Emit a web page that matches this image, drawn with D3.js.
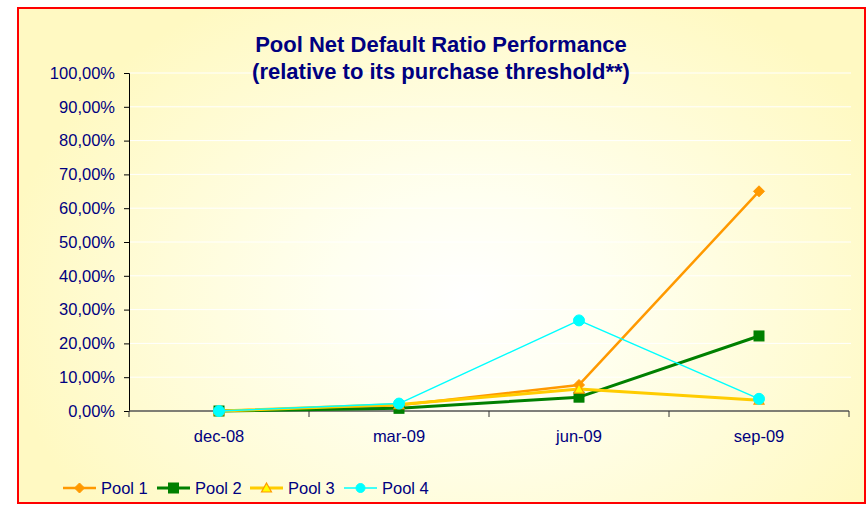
<!DOCTYPE html>
<html><head><meta charset="utf-8">
<script src="https://cdn.jsdelivr.net/npm/d3@7"></script>
<style>
html,body{margin:0;padding:0;background:#fff;}
svg{display:block;font-family:Arial,"Liberation Sans",sans-serif;}
</style></head><body>
<svg id="c" width="868" height="506"></svg>
<script>
const categories = ["dec-08","mar-09","jun-09","sep-09"];
const pool1 = [0, 0.017, 0.077, 0.65];
const pool2 = [0, 0.008, 0.041, 0.222];
const pool3 = [0, 0.019, 0.065, 0.032];
const pool4 = [0, 0.022, 0.268, 0.036];
const seriesNames = ["Pool 1","Pool 2","Pool 3","Pool 4"];
const yTicks = [0,0.1,0.2,0.3,0.4,0.5,0.6,0.7,0.8,0.9,1.0];
const titleLines = ["Pool Net Default Ratio Performance","(relative to its purchase threshold**)"];

const series = [
  {name:seriesNames[0], values:pool1, color:"#FF9900", width:2.5, marker:"diamond", fill:"#FF9900", stroke:"#FF9900"},
  {name:seriesNames[1], values:pool2, color:"#008000", width:3, marker:"square", fill:"#008000", stroke:"#008000"},
  {name:seriesNames[2], values:pool3, color:"#FFCC00", width:3, marker:"triangle", fill:"#FFFF00", stroke:"#FF9900"},
  {name:seriesNames[3], values:pool4, color:"#00FFFF", width:1.5, marker:"circle", fill:"#00FFFF", stroke:"#00FFFF"}
];

const FS = "16.5px";
const svg = d3.select("#c");
const defs = svg.append("defs");
const g = defs.append("radialGradient").attr("id","bg")
  .attr("gradientUnits","userSpaceOnUse").attr("cx",470).attr("cy",300).attr("r",470)
  .attr("gradientTransform","translate(470,300) scale(1,0.75) translate(-470,-300)");
g.append("stop").attr("offset","0%").attr("stop-color","#FFFFFF");
g.append("stop").attr("offset","30%").attr("stop-color","#FFFFF0");
g.append("stop").attr("offset","100%").attr("stop-color","#FFF9C2");

svg.append("rect").attr("x",18).attr("y",8).attr("width",847).attr("height",495)
  .attr("fill","url(#bg)").attr("stroke","#FF0000").attr("stroke-width",2);

const pLeft = 129, pRight = 849, pTop = 73, pBottom = 411;
const x = d3.scaleBand().domain(categories).range([pLeft,pRight]).padding(0);
const y = d3.scaleLinear().domain([0,1]).range([pBottom,pTop]);

// gridlines
svg.append("g").selectAll("line").data(yTicks.filter(d=>d>0)).join("line")
  .attr("x1",pLeft).attr("x2",pRight+2).attr("y1",d=>y(d)).attr("y2",d=>y(d))
  .attr("stroke","#FFFFFF").attr("stroke-width",1);

// y axis
const fmt = d => d3.format(".2f")(d*100).replace(".",",") + "%";
const yAxis = svg.append("g").attr("transform",`translate(${pLeft},0)`)
  .call(d3.axisLeft(y).tickValues(yTicks).tickFormat(fmt).tickSize(5).tickPadding(9));
yAxis.select(".domain").attr("stroke","#000").attr("stroke-width",1);
yAxis.selectAll(".tick line").attr("stroke","#000");
yAxis.selectAll("text").attr("fill","#000080").attr("font-size",FS).attr("font-family","Arial,'Liberation Sans',sans-serif");

// x axis
const xAxis = svg.append("g").attr("transform",`translate(0,${pBottom})`)
  .call(d3.axisBottom(x).tickSize(0).tickPadding(19));
xAxis.select(".domain").remove();
xAxis.selectAll("text").attr("fill","#000080").attr("font-size",FS).attr("font-family","Arial,'Liberation Sans',sans-serif");
svg.append("line").attr("x1",pLeft).attr("x2",pRight).attr("y1",pBottom).attr("y2",pBottom)
  .attr("stroke","#555").attr("stroke-width",1.5);
svg.append("g").selectAll("line").data(d3.range(categories.length+1)).join("line")
  .attr("x1",i=>pLeft + i*x.bandwidth()).attr("x2",i=>pLeft + i*x.bandwidth())
  .attr("y1",pBottom).attr("y2",pBottom+6).attr("stroke","#333").attr("stroke-width",1);

const cx = c => x(c) + x.bandwidth()/2;
const line = d3.line().x((d,i)=>cx(categories[i])).y(d=>y(d));

function drawMarker(sel, s, px, py, sz) {
  if (s.marker==="diamond") {
    sel.append("path").attr("d",`M${px},${py-sz}L${px+sz},${py}L${px},${py+sz}L${px-sz},${py}Z`)
      .attr("fill",s.fill).attr("stroke",s.stroke);
  } else if (s.marker==="square") {
    sel.append("rect").attr("x",px-sz).attr("y",py-sz).attr("width",2*sz).attr("height",2*sz)
      .attr("fill",s.fill).attr("stroke",s.stroke);
  } else if (s.marker==="triangle") {
    sel.append("path").attr("d",`M${px},${py-sz}L${px+sz},${py+sz*0.8}L${px-sz},${py+sz*0.8}Z`)
      .attr("fill",s.fill).attr("stroke",s.stroke).attr("stroke-width",1.2);
  } else {
    sel.append("circle").attr("cx",px).attr("cy",py).attr("r",sz+0.5)
      .attr("fill",s.fill).attr("stroke",s.stroke);
  }
}

series.forEach(s=>{
  const gg = svg.append("g");
  gg.append("path").attr("d",line(s.values)).attr("fill","none")
    .attr("stroke",s.color).attr("stroke-width",s.width).attr("stroke-linejoin","round");
  s.values.forEach((v,i)=>drawMarker(gg, s, cx(categories[i]), y(v), s.marker==="square"?5:(s.marker==="diamond"?5.5:5)));
});

// title
svg.append("text").attr("x",441).attr("text-anchor","middle").attr("fill","#000080")
  .attr("font-weight","bold").attr("font-size","22px")
  .selectAll("tspan").data(titleLines).join("tspan")
  .attr("x",441).attr("y",(d,i)=>52+i*27).text(d=>d);

// legend
const legX = [63,157,250,344];
series.forEach((s,i)=>{
  const lg = svg.append("g");
  const x0 = legX[i], yy = 488;
  lg.append("line").attr("x1",x0).attr("x2",x0+33).attr("y1",yy).attr("y2",yy)
    .attr("stroke",s.color).attr("stroke-width",s.width);
  drawMarker(lg, s, x0+16.5, yy, s.marker==="circle"?4:5);
  lg.append("text").attr("x",x0+38).attr("y",yy+6).attr("fill","#000080")
    .attr("font-size",FS).text(s.name);
});
</script>
</body></html>
